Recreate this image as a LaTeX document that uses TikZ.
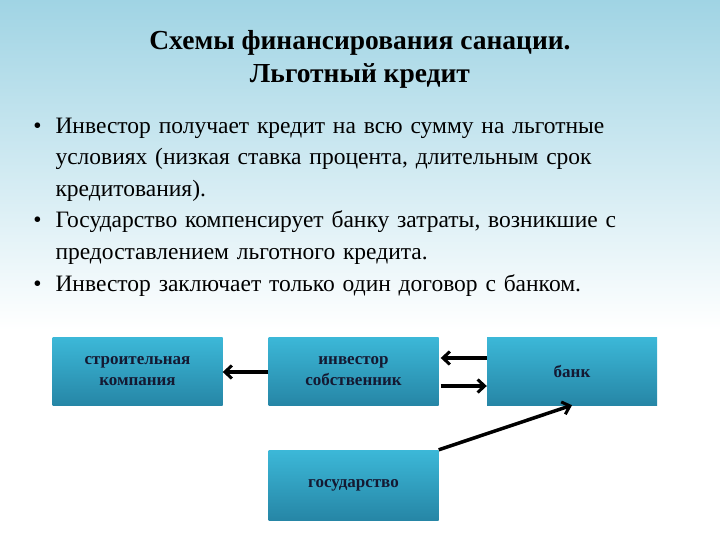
\documentclass[tikz,border=0pt]{standalone}
\usepackage{fontspec}
\setmainfont{Liberation Serif}
\usetikzlibrary{arrows.meta}
\begin{document}
\begin{tikzpicture}[x=1pt,y=-1pt,
  box/.style={draw=none,top color={rgb,255:red,60;green,184;blue,216},bottom color={rgb,255:red,38;green,134;blue,166},
    minimum width=170pt,minimum height=68pt,text width=160pt,align=center,
    font=\fontsize{17}{21}\selectfont\bfseries,text={rgb,255:red,20;green,25;blue,50}},
  arr/.style={line width=3.5pt,-{Straight Barb[length=7pt,width=13pt,line width=3pt]}}]
\useasboundingbox (0,0) rectangle (720,540);
\shade[top color={rgb,255:red,160;green,212;blue,228},bottom color=white] (0,0) rectangle (720,330);
\node[font=\fontsize{27.5}{33}\selectfont\bfseries,align=center] (title) at (360,59) {Схемы финансирования санации.\\Льготный кредит};
\node[anchor=north west,text width=680pt,font=\fontsize{23.5}{31.6}\selectfont,align=left] (bul) at (20,98) {%
\begin{list}{•}{\leftmargin=32pt\labelsep=14pt\itemsep=0pt\parsep=0pt\topsep=0pt}
\raggedright
\item Инвестор получает кредит на всю сумму на льготные\\условиях (низкая ставка процента, длительным срок\\кредитования).
\item Государство компенсирует банку затраты, возникшие с\\предоставлением льготного кредита.
\item Инвестор заключает только один договор с банком.
\end{list}};
\node[box] (sk) at (137.5,371.5) {строительная\\компания};
\node[box] (inv) at (353.5,371) {инвестор\\собственник};
\node[box] (bank) at (572,371) {банк};
\node[box,minimum height=70pt] (gos) at (353.5,485) {государство};
\draw[arr] (inv.west |- 0,372) -- (sk.east |- 0,372);
\draw[arr] (bank.west |- 0,358) -- ([xshift=2pt]inv.east |- 0,358);
\draw[arr] ([xshift=2pt]inv.east |- 0,386) -- (bank.west |- 0,386);
\draw[arr] (gos.north east) -- (bank.south);
\end{tikzpicture}
\end{document}
